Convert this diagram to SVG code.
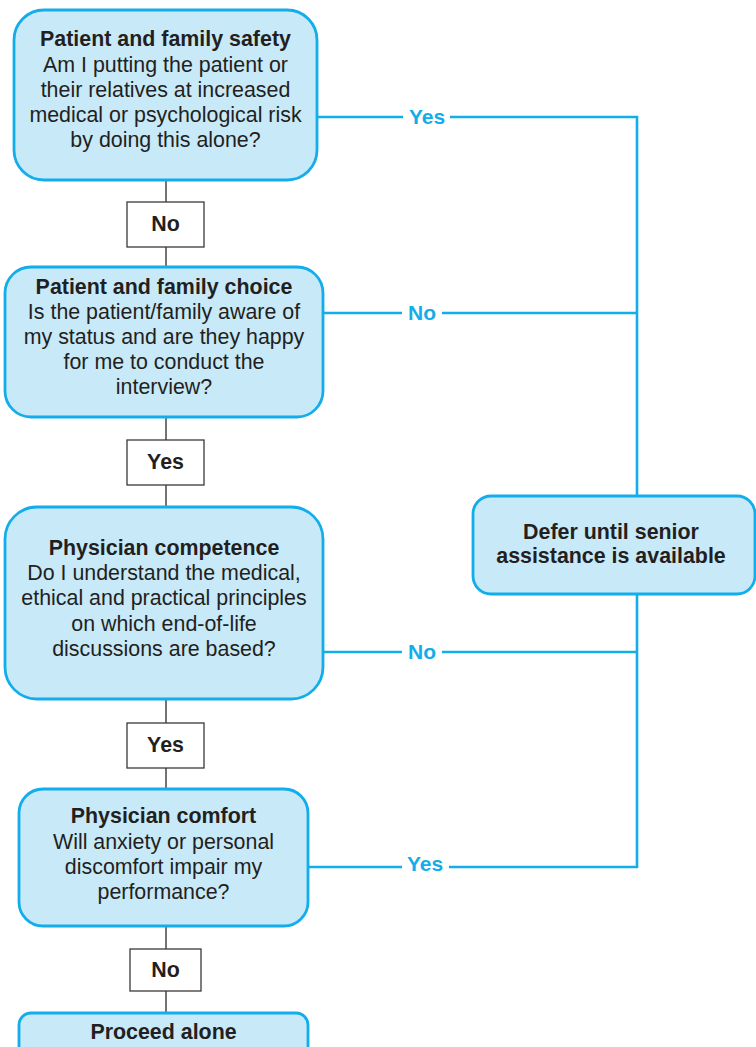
<svg xmlns="http://www.w3.org/2000/svg" width="756" height="1047" viewBox="0 0 756 1047">
<style>
.node{fill:#c8e9f8;stroke:#12adea;stroke-width:2.8}
.lbl{fill:#fff;stroke:#3a3a3a;stroke-width:1.3}
.t{font-family:"Liberation Sans",Arial,sans-serif;font-size:21.4px;fill:#231f20;text-anchor:middle}
.b{font-weight:bold}
.bl{font-family:"Liberation Sans",Arial,sans-serif;font-size:21px;font-weight:bold;fill:#12adea;text-anchor:middle}
.gl{stroke:#3a3a3a;stroke-width:1.4;fill:none}
.bline{stroke:#12adea;stroke-width:2.6;fill:none}
</style>
<rect width="756" height="1047" fill="#fff"/>
<g id="connectors">
<path class="gl" d="M166 180V202M166 247V268M166 417V440M166 485V507M166 699V723M166 768V789M166 926V949M166 991V1013"/>
<path class="bline" d="M317 117H403M450 117H637V496M323 313H402M442 313H637M323 652H402M442 652H637M637 594V868M308 867H402M449 867H638"/>
<text class="bl" x="427" y="124">Yes</text>
<text class="bl" x="422" y="320">No</text>
<text class="bl" x="422" y="659">No</text>
<text class="bl" x="425" y="871">Yes</text>
<g id="label-no1"><rect class="lbl" x="127" y="202" width="77" height="45"/><text class="t b" x="165.5" y="231" font-size="20">No</text></g>
<g id="label-yes1"><rect class="lbl" x="127" y="440" width="77" height="45"/><text class="t b" x="165.5" y="469" font-size="20.5">Yes</text></g>
<g id="label-yes2"><rect class="lbl" x="127" y="723" width="77" height="45"/><text class="t b" x="165.5" y="752" font-size="20.5">Yes</text></g>
<g id="label-no2"><rect class="lbl" x="130" y="949" width="71" height="42"/><text class="t b" x="165.5" y="977" font-size="20">No</text></g>
</g>
<g id="safety">
<rect class="node" x="14" y="10" width="303" height="170" rx="30"/>
<text class="t b" x="165.5" y="46">Patient and family safety</text>
<text class="t" x="165.5" y="72">Am I putting the patient or</text>
<text class="t" x="165.5" y="97">their relatives at increased</text>
<text class="t" x="165.5" y="122">medical or psychological risk</text>
<text class="t" x="165.5" y="147">by doing this alone?</text>
</g>
<g id="choice">
<rect class="node" x="5" y="267" width="318" height="150" rx="26"/>
<text class="t b" x="164" y="294">Patient and family choice</text>
<text class="t" x="164" y="319">Is the patient/family aware of</text>
<text class="t" x="164" y="344">my status and are they happy</text>
<text class="t" x="164" y="369">for me to conduct the</text>
<text class="t" x="164" y="394">interview?</text>
</g>
<g id="competence">
<rect class="node" x="5" y="507" width="318" height="192" rx="32"/>
<text class="t b" x="164" y="555">Physician competence</text>
<text class="t" x="164" y="580">Do I understand the medical,</text>
<text class="t" x="164" y="605">ethical and practical principles</text>
<text class="t" x="164" y="631">on which end-of-life</text>
<text class="t" x="164" y="656">discussions are based?</text>
</g>
<g id="comfort">
<rect class="node" x="19" y="789" width="289" height="137" rx="24"/>
<text class="t b" x="163.5" y="823">Physician comfort</text>
<text class="t" x="163.5" y="849">Will anxiety or personal</text>
<text class="t" x="163.5" y="874">discomfort impair my</text>
<text class="t" x="163.5" y="899">performance?</text>
</g>
<g id="proceed">
<rect class="node" x="19" y="1013" width="289" height="80" rx="12"/>
<text class="t b" x="163.5" y="1039">Proceed alone</text>
</g>
<g id="defer">
<rect class="node" x="473" y="496" width="282" height="98" rx="18"/>
<text class="t b" x="611" y="539">Defer until senior</text>
<text class="t b" x="611" y="563">assistance is available</text>
</g>
</svg>
